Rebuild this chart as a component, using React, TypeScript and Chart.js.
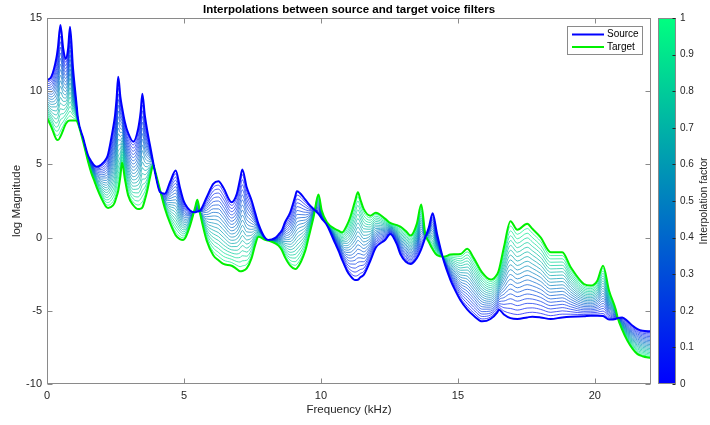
import { useEffect, useRef } from "react";
import { Chart, registerables } from "chart.js";

Chart.register(...registerables);

// Frequency grid (kHz) shared by both voice filters
const freqKHz = [
  0.0, 0.16, 0.34, 0.4, 0.49, 0.59, 0.68, 0.77, 0.84, 0.95, 1.07, 1.13, 1.32, 1.5, 1.62, 1.74, 1.81, 1.99,
  2.17, 2.23, 2.41, 2.48, 2.54, 2.6, 2.68, 2.74, 2.84, 2.96, 3.15, 3.33, 3.42, 3.48, 3.57, 3.66, 3.76, 3.88,
  3.94, 4.12, 4.3, 4.49, 4.7, 4.85, 4.97, 5.04, 5.22, 5.4, 5.49, 5.59, 5.83, 6.07, 6.26, 6.44, 6.74, 6.93,
  7.05, 7.13, 7.29, 7.47, 7.6, 7.72, 7.96, 8.08, 8.33, 8.45, 8.57, 8.69, 8.88, 9.06, 9.12, 9.43, 9.55, 9.73,
  9.91, 10.03, 10.22, 10.52, 10.64, 10.77, 10.95, 11.07, 11.25, 11.35, 11.44, 11.56, 11.8, 12.0, 12.35, 12.53,
  12.78, 12.9, 13.1, 13.27, 13.5, 13.66, 13.81, 13.94, 14.08, 14.24, 14.48, 14.73, 14.85, 15.1, 15.34, 15.58,
  15.89, 16.19, 16.44, 16.5, 16.68, 16.92, 17.17, 17.53, 17.72, 18.02, 18.39, 18.81, 19.12, 19.6, 19.85, 20.09,
  20.3, 20.52, 20.76, 20.83, 21.0, 21.19, 21.38, 21.56, 21.74, 22.05,
];

// log magnitude of the source voice filter
const sourceLogMag = [
  10.76, 10.99, 12.24, 13.0, 14.52, 12.93, 12.2, 12.9, 14.41, 11.56, 9.28, 8.14, 6.8, 5.6, 5.2, 4.9, 4.84, 5.0,
  5.4, 5.7, 7.46, 8.3, 9.5, 10.99, 9.6, 8.9, 7.91, 7.15, 6.55, 7.46, 8.6, 9.83, 8.37, 7.3, 6.31, 5.1,
  4.49, 3.13, 3.0, 3.78, 4.58, 3.44, 2.6, 2.3, 1.85, 1.73, 1.78, 1.85, 2.76, 3.67, 3.85, 3.4, 2.42, 2.99,
  4.0, 4.65, 3.44, 2.53, 1.7, 0.94, -0.02, -0.16, -0.02, 0.2, 0.48, 1.05, 1.73, 2.8, 3.17, 2.6, 2.3, 1.95,
  1.62, 1.3, 0.85, -0.4, -0.89, -1.5, -2.26, -2.6, -2.9, -2.88, -2.71, -2.55, -1.6, -0.7, -0.15, 0.25,
  -0.5, -1.12, -1.65, -1.8, -1.4, -0.8, 0.0, 0.7, 1.66, 0.25, -1.57, -2.9, -3.4, -4.3, -4.9, -5.34,
  -5.72, -5.56, -5.1, -4.92, -5.25, -5.5, -5.56, -5.45, -5.4, -5.45, -5.56, -5.45, -5.4, -5.37, -5.34, -5.34,
  -5.36, -5.6, -5.56, -5.5, -5.45, -5.7, -6.02, -6.25, -6.36, -6.4,
];

// log magnitude of the target voice filter
const targetLogMag = [
  8.19, 7.55, 6.72, 6.66, 6.9, 7.35, 7.75, 7.96, 8.0, 8.0, 8.0, 7.8, 6.55, 5.18, 4.4, 3.81, 3.45, 2.67,
  2.08, 2.03, 2.2, 2.44, 2.8, 3.2, 4.2, 5.13, 4.04, 2.9, 2.21, 1.95, 1.98, 2.05, 2.55, 3.2, 4.1, 4.95,
  4.6, 3.3, 2.0, 1.0, 0.15, -0.1, -0.16, -0.05, 0.8, 2.0, 2.58, 1.62, -0.21, -1.2, -1.55, -1.8, -1.92, -2.15,
  -2.3, -2.28, -2.1, -1.4, -0.5, 0.05, -0.15, -0.2, -0.4, -0.55, -0.85, -1.35, -1.92, -2.14, -2.1, -0.89, 0.0, 1.39,
  2.94, 1.85, 1.05, 0.59, 0.48, 0.36, 0.85, 1.39, 2.53, 3.1, 2.6, 1.96, 1.5, 1.7, 1.28, 1.0,
  0.85, 0.75, 0.45, 0.14, 0.94, 2.26, 0.25, -0.3, -0.8, -1.2, -1.3, -1.16, -1.14, -1.12, -0.77, -1.4,
  -2.4, -2.87, -2.48, -2.2, -0.66, 1.12, 0.53, 0.94, 0.6, 0.02, -1.0, -1.0, -2.03, -3.17, -3.28, -2.94,
  -1.92, -3.63, -4.9, -5.45, -6.3, -7.05, -7.6, -7.96, -8.1, -8.23,
];

// interpolation factors of the intermediate filters (0 = source, 1 = target)
const interpFactors = [
  0.05, 0.1, 0.15, 0.2, 0.25, 0.3, 0.35, 0.4, 0.45, 0.5, 0.55, 0.6, 0.65, 0.7, 0.75, 0.8, 0.85, 0.9, 0.95,
];

const xTicks = [0, 5, 10, 15, 20];
const yTicks = [-10, -5, 0, 5, 10, 15];
const colorbarTicks = [0, 0.1, 0.2, 0.3, 0.4, 0.5, 0.6, 0.7, 0.8, 0.9, 1];
const legendLabels = ["Source", "Target"];

const FONT = "'Liberation Sans', Arial, Helvetica, sans-serif";
const AXIS_GREY = "#8a8a8a";
const TEXT_DARK = "#262626";
const SOURCE_COLOR = "rgb(0,0,255)";
const TARGET_COLOR = "rgb(0,240,0)";

// MATLAB "winter" colormap: blue -> spring green
function winter(t: number): string {
  return `rgb(0, ${Math.round(255 * t)}, ${Math.round(255 * (1 - t / 2))})`;
}

function toPoints(values: number[]) {
  return freqKHz.map((f, i) => ({ x: f, y: values[i] }));
}

const decorations = {
  id: "decorations",
  afterDraw(chart: any) {
    const { ctx, chartArea: a, scales } = chart;
    const xs = scales.x;
    const ys = scales.y;
    ctx.save();

    // axes box
    ctx.strokeStyle = AXIS_GREY;
    ctx.lineWidth = 1;
    const L = Math.round(a.left) + 0.5;
    const R = Math.round(a.right) - 0.5;
    const T = Math.round(a.top) + 0.5;
    const B = Math.round(a.bottom) - 0.5;
    ctx.strokeRect(L, T, R - L, B - T);

    // inward tick marks on all four sides
    const tl = 5;
    ctx.beginPath();
    xTicks.forEach((v) => {
      const px = Math.round(xs.getPixelForValue(v)) + 0.5;
      ctx.moveTo(px, B);
      ctx.lineTo(px, B - tl);
      ctx.moveTo(px, T);
      ctx.lineTo(px, T + tl);
    });
    yTicks.forEach((v) => {
      const py = Math.round(ys.getPixelForValue(v)) + 0.5;
      ctx.moveTo(L, py);
      ctx.lineTo(L + tl, py);
      ctx.moveTo(R, py);
      ctx.lineTo(R - tl, py);
    });
    ctx.stroke();

    // title and axis labels
    const midX = (a.left + a.right) / 2;
    ctx.fillStyle = "#000";
    ctx.textAlign = "center";
    ctx.textBaseline = "middle";
    ctx.font = `bold 11.5px ${FONT}`;
    ctx.fillText("Interpolations between source and target voice filters", midX, 9.5);

    ctx.fillStyle = TEXT_DARK;
    ctx.font = `11.5px ${FONT}`;
    ctx.fillText("Frequency (kHz)", midX, 410);

    ctx.save();
    ctx.translate(17, (a.top + a.bottom) / 2);
    ctx.rotate(-Math.PI / 2);
    ctx.fillText("log Magnitude", 0, 0);
    ctx.restore();

    // legend
    const lx = 567.5, ly = 26.5, lw = 75, lh = 28;
    ctx.fillStyle = "#fff";
    ctx.fillRect(lx, ly, lw, lh);
    ctx.strokeStyle = AXIS_GREY;
    ctx.strokeRect(lx, ly, lw, lh);
    const legendColors = [SOURCE_COLOR, TARGET_COLOR];
    legendLabels.forEach((label, i) => {
      const yy = 34.5 + i * 12.5;
      ctx.strokeStyle = legendColors[i];
      ctx.lineWidth = 2;
      ctx.beginPath();
      ctx.moveTo(572, yy);
      ctx.lineTo(604, yy);
      ctx.stroke();
      ctx.fillStyle = "#000";
      ctx.font = `10px ${FONT}`;
      ctx.textAlign = "left";
      ctx.textBaseline = "middle";
      ctx.fillText(label, 607, yy);
    });

    // colorbar
    const cbL = 658, cbR = 676, cbT = Math.round(a.top), cbB = Math.round(a.bottom);
    const grad = ctx.createLinearGradient(0, cbB, 0, cbT);
    grad.addColorStop(0, winter(0));
    grad.addColorStop(1, winter(1));
    ctx.fillStyle = grad;
    ctx.fillRect(cbL, cbT, cbR - cbL, cbB - cbT);
    ctx.strokeStyle = AXIS_GREY;
    ctx.lineWidth = 1;
    ctx.strokeRect(cbL + 0.5, cbT + 0.5, cbR - cbL - 1, cbB - cbT - 1);
    ctx.strokeStyle = TEXT_DARK;
    ctx.beginPath();
    colorbarTicks.forEach((v) => {
      const py = Math.round(cbB - v * (cbB - cbT)) + 0.5;
      ctx.moveTo(cbR - 0.5, py);
      ctx.lineTo(cbR - 3.5, py);
    });
    ctx.stroke();
    ctx.fillStyle = TEXT_DARK;
    ctx.font = `10px ${FONT}`;
    ctx.textAlign = "left";
    ctx.textBaseline = "middle";
    colorbarTicks.forEach((v) => {
      const py = cbB - v * (cbB - cbT);
      ctx.fillText(String(v), 680, py);
    });
    ctx.save();
    ctx.translate(704, (cbT + cbB) / 2);
    ctx.rotate(-Math.PI / 2);
    ctx.textAlign = "center";
    ctx.font = `10.5px ${FONT}`;
    ctx.fillText("Interpolation factor", 0, 0);
    ctx.restore();

    ctx.restore();
  },
};

export default function App() {
  const canvasRef = useRef<HTMLCanvasElement | null>(null);

  useEffect(() => {
    const canvas = canvasRef.current;
    if (!canvas) return;

    const intermediate = interpFactors.map((f) => ({
      label: `factor ${f}`,
      data: toPoints(sourceLogMag.map((s, i) => (1 - f) * s + f * targetLogMag[i])),
      borderColor: winter(f),
      borderWidth: 0.7,
      pointRadius: 0,
      fill: false,
      cubicInterpolationMode: "monotone" as const,
      order: 2,
    }));

    const chart = new Chart(canvas, {
      type: "line",
      data: {
        datasets: [
          {
            label: legendLabels[0],
            data: toPoints(sourceLogMag),
            borderColor: SOURCE_COLOR,
            borderWidth: 2,
            pointRadius: 0,
            fill: false,
            cubicInterpolationMode: "monotone",
            order: 0,
          },
          {
            label: legendLabels[1],
            data: toPoints(targetLogMag),
            borderColor: TARGET_COLOR,
            borderWidth: 2,
            pointRadius: 0,
            fill: false,
            cubicInterpolationMode: "monotone",
            order: 1,
          },
          ...intermediate,
        ],
      },
      options: {
        responsive: false,
        animation: false,
        devicePixelRatio: 1,
        events: [],
        layout: { padding: { left: 0, right: 59, top: 18, bottom: 0 } },
        plugins: {
          legend: { display: false },
          title: { display: false },
          tooltip: { enabled: false },
        },
        scales: {
          x: {
            type: "linear",
            min: 0,
            max: 22.05,
            grid: { display: false, drawTicks: false },
            border: { display: false },
            ticks: {
              padding: 5,
              color: TEXT_DARK,
              font: { family: FONT, size: 11 },
              maxRotation: 0,
              callback: (v: any) => String(v),
            },
            afterBuildTicks: (s: any) => {
              s.ticks = xTicks.map((v) => ({ value: v }));
            },
            afterFit: (s: any) => {
              s.height = 41;
            },
          },
          y: {
            type: "linear",
            min: -10,
            max: 15,
            grid: { display: false, drawTicks: false },
            border: { display: false },
            ticks: {
              padding: 5,
              color: TEXT_DARK,
              font: { family: FONT, size: 11 },
              callback: (v: any) => String(v),
            },
            afterBuildTicks: (s: any) => {
              s.ticks = yTicks.map((v) => ({ value: v }));
            },
            afterFit: (s: any) => {
              s.width = 47;
            },
          },
        },
      },
      plugins: [decorations],
    });

    return () => chart.destroy();
  }, []);

  return (
    <div style={{ position: "absolute", left: 0, top: 0, width: 710, height: 425, background: "#fff" }}>
      <canvas ref={canvasRef} width={710} height={425} />
    </div>
  );
}
